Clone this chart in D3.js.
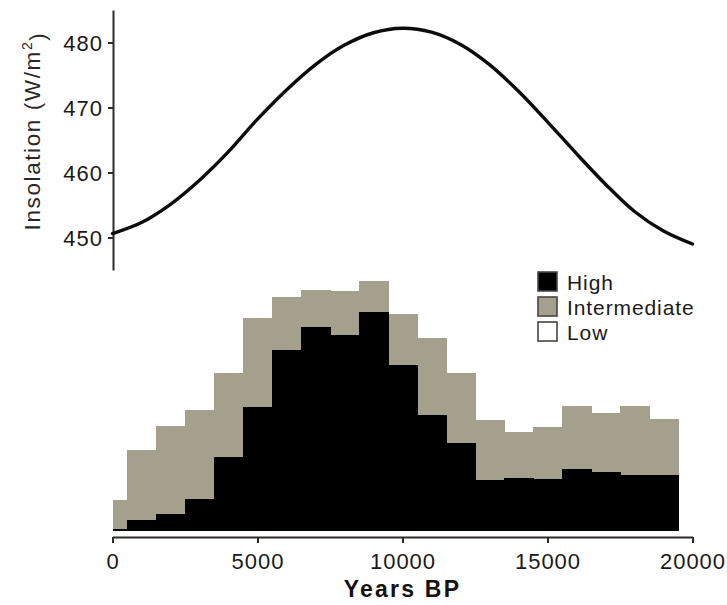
<!DOCTYPE html>
<html>
<head>
<meta charset="utf-8">
<script src="https://cdn.jsdelivr.net/npm/d3@7"></script>
<style>
  html, body { margin: 0; padding: 0; background: #ffffff; }
  svg { display: block; font-family: "Liberation Sans", Arial, Helvetica, sans-serif; }
  .tick text { fill: #1c1a18; font-size: 22px; letter-spacing: 1px; }
  .axis path, .axis line { stroke: #2e2b28; stroke-width: 2px; }
</style>
</head>
<body>
<svg id="chart" width="727" height="605"></svg>
<script>
// Summer insolation through the last 20,000 years (upper panel)
const insolationAge   = [0, 1000, 2000, 3000, 4000, 5000, 6000, 7000, 8000, 9000, 10000,
                         11000, 12000, 13000, 14000, 15000, 16000, 17000, 18000, 19000, 20000];
const insolationWm2   = [450.6, 452.3, 455.1, 458.8, 463.2, 468.2, 472.7, 476.6, 479.6, 481.5, 482.2,
                         481.6, 479.7, 476.6, 472.5, 467.8, 462.9, 458.2, 454.0, 451.0, 449.0];

// Lake-level status in 1000-year age bins (lower panel), percent of sites
const ageBinEdges     = [0, 500, 1500, 2500, 3500, 4500, 5500, 6500, 7500, 8500, 9500,
                         10500, 11500, 12500, 13500, 14500, 15500, 16500, 17500, 18500, 19500];
const highPct         = [0.8, 4.4, 6.8, 12.6, 29.6, 49.6, 72.2, 81.6, 78.2, 87.6,
                         66.4, 46.2, 35.2, 20.4, 21.2, 20.6, 24.8, 23.6, 22.2, 22.2];
const intermediatePct = [11.6, 27.8, 35.2, 35.8, 33.6, 35.6, 21.4, 14.6, 17.6, 12.4,
                         20.4, 31.0, 28.0, 23.8, 18.4, 21.0, 25.2, 23.6, 27.6, 22.6];

const xTickValues = [0, 5000, 10000, 15000, 20000];
const yTickValues = [450, 460, 470, 480];
const levelNames  = ["High", "Intermediate", "Low"];
const levelFill   = ["#000000", "#a59f8d", "#ffffff"];

const svg = d3.select("#chart");

const x = d3.scaleLinear().domain([0, 20000]).range([112.5, 692.5]);
const yIns = d3.scaleLinear().domain([445, 485]).range([270, 10]);
const yPct = d3.scaleLinear().domain([0, 100]).range([530.5, 280.5]);

// ---- upper panel: insolation curve ----
const insAxis = svg.append("g")
  .attr("class", "axis")
  .attr("transform", "translate(113,0)")
  .call(d3.axisLeft(yIns).tickValues(yTickValues).tickSize(5).tickSizeOuter(0).tickPadding(5));
insAxis.selectAll(".tick text").attr("dy", "0.36em");

const insLine = d3.line()
  .x((d, i) => x(insolationAge[i]))
  .y(d => yIns(d))
  .curve(d3.curveCatmullRom.alpha(0.5));

svg.append("path")
  .datum(insolationWm2)
  .attr("d", insLine)
  .attr("fill", "none")
  .attr("stroke", "#0d0c0b")
  .attr("stroke-width", 3.4)
  .attr("stroke-linecap", "round");

const yLabel = svg.append("text")
  .attr("transform", "translate(40,131) rotate(-90)")
  .attr("text-anchor", "middle")
  .attr("fill", "#2a2724")
  .style("font-size", "22.5px")
  .style("letter-spacing", "1.6px");
yLabel.append("tspan").text("Insolation  (W/m");
yLabel.append("tspan").attr("dy", "-0.55em").style("font-size", "14px").text("2");
yLabel.append("tspan").attr("dy", "0.55em").text(")");

// ---- lower panel: stacked lake-level bars ----
const bins = highPct.map((h, i) => ({
  x0: ageBinEdges[i],
  x1: ageBinEdges[i + 1],
  high: h,
  inter: intermediatePct[i]
}));

const barG = svg.append("g").attr("shape-rendering", "crispEdges");

barG.selectAll("rect.inter")
  .data(bins)
  .join("rect")
  .attr("class", "inter")
  .attr("x", d => x(d.x0))
  .attr("width", d => x(d.x1) - x(d.x0) + 0.5)
  .attr("y", d => yPct(d.high + d.inter))
  .attr("height", d => yPct(d.high) - yPct(d.high + d.inter))
  .attr("fill", levelFill[1]);

barG.selectAll("rect.high")
  .data(bins)
  .join("rect")
  .attr("class", "high")
  .attr("x", d => x(d.x0))
  .attr("width", d => x(d.x1) - x(d.x0) + 0.5)
  .attr("y", d => yPct(d.high))
  .attr("height", d => yPct(0) - yPct(d.high))
  .attr("fill", levelFill[0]);

const ageAxis = svg.append("g")
  .attr("class", "axis")
  .attr("transform", "translate(0,537)")
  .call(d3.axisBottom(x).tickValues(xTickValues).tickFormat(d3.format("d"))
    .tickSize(6).tickSizeOuter(0).tickPadding(10));

svg.append("text")
  .attr("x", x(10000))
  .attr("y", 597)
  .attr("text-anchor", "middle")
  .attr("fill", "#141312")
  .style("font-size", "23px")
  .style("font-weight", "bold")
  .style("letter-spacing", "2.2px")
  .text("Years BP");

// ---- legend ----
const legend = svg.append("g").attr("transform", "translate(538,272)");
const item = legend.selectAll("g")
  .data(levelNames)
  .join("g")
  .attr("transform", (d, i) => `translate(0,${i * 25})`);
item.append("rect")
  .attr("width", 19)
  .attr("height", 19)
  .attr("fill", (d, i) => levelFill[i])
  .attr("stroke", "#4a4540")
  .attr("stroke-width", 1.6);
item.append("text")
  .attr("x", 29)
  .attr("y", 17.5)
  .attr("fill", "#1c1a18")
  .style("font-size", "21px")
  .style("letter-spacing", "0.9px")
  .text(d => d);
</script>
</body>
</html>
